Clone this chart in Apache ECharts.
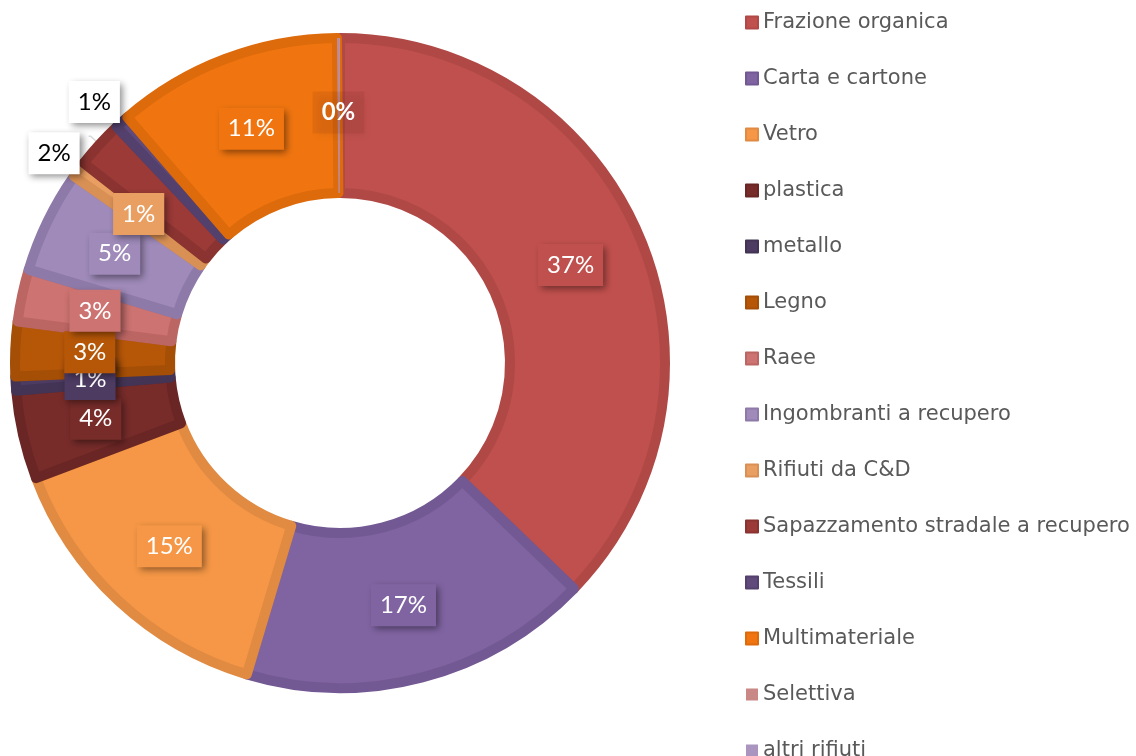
<!DOCTYPE html>
<html>
<head>
<meta charset="utf-8">
<style>
  html, body { margin: 0; padding: 0; background: #ffffff; }
  #chart { width: 1136px; height: 756px; }
</style>
<script src="https://cdn.jsdelivr.net/npm/echarts@6/dist/echarts.min.js"></script>
</head>
<body>
<div id="chart"></div>
<script>
// Composizione della raccolta differenziata (quote percentuali)
const categories = [
  'Frazione organica', 'Carta e cartone', 'Vetro', 'plastica', 'metallo',
  'Legno', 'Raee', 'Ingombranti a recupero', 'Rifiuti da C&D',
  'Sapazzamento stradale a recupero', 'Tessili', 'Multimateriale',
  'Selettiva', 'altri rifiuti'
];
const shares = [37.2, 17.4, 14.6, 4.4, 0.7, 2.7, 2.6, 5.1, 0.8, 2.4, 0.7, 11.2, 0.1, 0.05];

// fill and edge colour of each slice
const fillColors = [
  '#C0504D', '#8064A2', '#F59746', '#772C2A', '#4D3B62', '#B65708', '#CD7371',
  '#9F8AB9', '#E99F62', '#9B3A37', '#5F4A7B', '#F07510', '#C98886', '#A995C0'
];
const edgeColors = [
  '#B04946', '#735993', '#E08A42', '#6A2624', '#433455', '#A44E06', '#BC6664',
  '#8E7AA8', '#D99054', '#8A3330', '#53406C', '#DD6A0B', '#C98886', '#A995C0'
];

// slices whose label sits outside as a callout, with the nudge for each box
const calloutShift = {
  'Sapazzamento stradale a recupero': { dx: -4, dy: 17 },
  'Tessili': { dx: 13, dy: -11 }
};
const hiddenLabels = ['altri rifiuti'];
const boldLabels = ['Selettiva'];

const chart = echarts.init(document.getElementById('chart'));

const data = categories.map((name, i) => {
  const item = {
    name: name,
    value: shares[i],
    itemStyle: {
      color: fillColors[i],
      borderColor: edgeColors[i],
      borderWidth: shares[i] < 0.5 ? 0 : 10
    },
    label: {
      backgroundColor: fillColors[i]
    }
  };
  if (calloutShift[name]) {
    item.label = {
      position: 'outside',
      color: '#000000',
      backgroundColor: '#ffffff',
      padding: [8, 9]
    };
    item.labelLine = {
      show: true,
      length: 12,
      length2: 2,
      lineStyle: { color: '#d9d9d9', width: 1.5 }
    };
  }
  if (hiddenLabels.includes(name)) {
    item.label = { show: false };
  }
  if (boldLabels.includes(name)) {
    item.label = {
      fontWeight: 'bold',
      backgroundColor: 'rgba(110,30,20,0.10)'
    };
  }
  return item;
});

chart.setOption({
  animation: false,
  backgroundColor: '#ffffff',
  legend: {
    orient: 'vertical',
    left: 745,
    top: 12,
    height: 800,
    padding: 0,
    icon: 'rect',
    itemWidth: 12,
    itemHeight: 12,
    itemGap: 35,
    textStyle: {
      fontFamily: '"Century Gothic", "DejaVu Sans", sans-serif',
      fontSize: 21,
      lineHeight: 20,
      color: '#595959'
    },
    data: categories
  },
  series: [{
    type: 'pie',
    center: [340, 363],
    radius: [170, 325],
    startAngle: 90,
    clockwise: true,
    avoidLabelOverlap: false,
    data: data,
    label: {
      show: true,
      position: 'inside',
      formatter: p => Math.round(p.percent) + '%',
      fontFamily: 'Lato, "Open Sans", sans-serif',
      fontSize: 24,
      lineHeight: 26,
      color: '#ffffff',
      padding: [8, 9],
      shadowColor: 'rgba(0,0,0,0.45)',
      shadowBlur: 7,
      shadowOffsetX: 3,
      shadowOffsetY: 3
    },
    labelLine: { show: false },
    // move the callout boxes clear of the ring and of each other
    labelLayout: p => calloutShift[categories[p.dataIndex]] || {},
    emphasis: { disabled: true }
  }]
});
</script>
</body>
</html>
